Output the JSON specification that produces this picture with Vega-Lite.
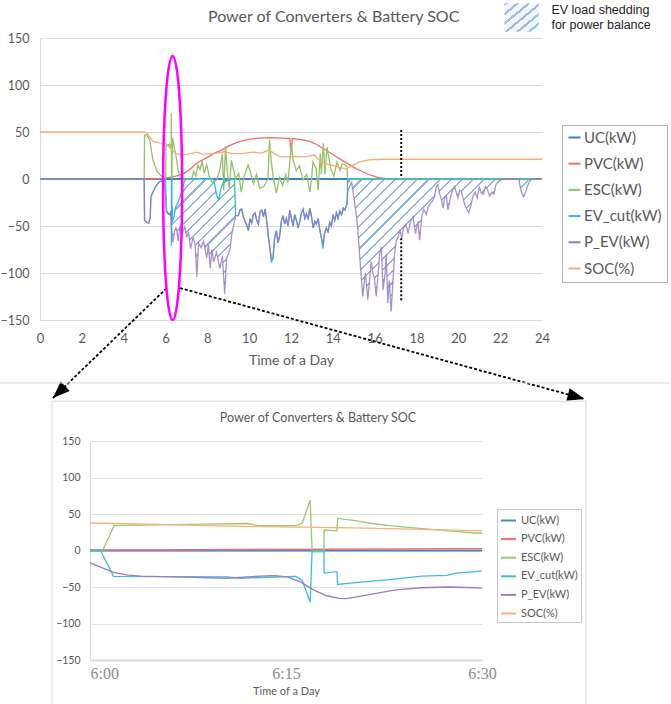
{
"$schema":"https://vega.github.io/schema/vega-lite/v6.json",
"width":671,"height":704,"padding":0,"autosize":{"type":"none"},
"config":{"view":{"stroke":null},"font":"Lato","axis":{"labelFont":"Lato","titleFont":"Lato"},"legend":{"labelFont":"Lato"}},
"datasets":{
"top":[
{"s":"UC(kW)","t":0,"v":0},{"s":"UC(kW)","t":24,"v":0},
{"s":"PVC(kW)","t":0,"v":0},{"s":"PVC(kW)","t":5.5,"v":0},{"s":"PVC(kW)","t":6,"v":1},{"s":"PVC(kW)","t":6.5,"v":3},{"s":"PVC(kW)","t":6.9,"v":6},{"s":"PVC(kW)","t":7.2,"v":11},{"s":"PVC(kW)","t":7.5,"v":17},{"s":"PVC(kW)","t":8,"v":23},{"s":"PVC(kW)","t":8.3,"v":27},{"s":"PVC(kW)","t":8.7,"v":31},{"s":"PVC(kW)","t":9.1,"v":36},{"s":"PVC(kW)","t":9.5,"v":39.5},{"s":"PVC(kW)","t":10,"v":42.5},{"s":"PVC(kW)","t":10.5,"v":43.5},{"s":"PVC(kW)","t":11,"v":44},{"s":"PVC(kW)","t":11.5,"v":43.5},{"s":"PVC(kW)","t":11.95,"v":43},{"s":"PVC(kW)","t":11.98,"v":31},{"s":"PVC(kW)","t":12.03,"v":31},{"s":"PVC(kW)","t":12.06,"v":43},{"s":"PVC(kW)","t":12.5,"v":42},{"s":"PVC(kW)","t":12.9,"v":40},{"s":"PVC(kW)","t":13.2,"v":37},{"s":"PVC(kW)","t":13.5,"v":33},{"s":"PVC(kW)","t":14,"v":26},{"s":"PVC(kW)","t":14.5,"v":19},{"s":"PVC(kW)","t":14.8,"v":15},{"s":"PVC(kW)","t":15.1,"v":11},{"s":"PVC(kW)","t":15.4,"v":8},{"s":"PVC(kW)","t":15.8,"v":4},{"s":"PVC(kW)","t":16.1,"v":2},{"s":"PVC(kW)","t":16.5,"v":0.5},{"s":"PVC(kW)","t":16.8,"v":0},{"s":"PVC(kW)","t":24,"v":0},
{"s":"ESC(kW)","t":0,"v":0},{"s":"ESC(kW)","t":4.98,"v":0},{"s":"ESC(kW)","t":5,"v":47},{"s":"ESC(kW)","t":5.1,"v":47},{"s":"ESC(kW)","t":5.25,"v":41},{"s":"ESC(kW)","t":5.4,"v":20},{"s":"ESC(kW)","t":5.6,"v":8},{"s":"ESC(kW)","t":5.85,"v":2},{"s":"ESC(kW)","t":6,"v":0},{"s":"ESC(kW)","t":6.008,"v":0},{"s":"ESC(kW)","t":6.025,"v":35},{"s":"ESC(kW)","t":6.1,"v":36},{"s":"ESC(kW)","t":6.2,"v":37},{"s":"ESC(kW)","t":6.24,"v":34},{"s":"ESC(kW)","t":6.275,"v":38},{"s":"ESC(kW)","t":6.282,"v":70},{"s":"ESC(kW)","t":6.285,"v":-2},{"s":"ESC(kW)","t":6.308,"v":-2},{"s":"ESC(kW)","t":6.31,"v":28},{"s":"ESC(kW)","t":6.33,"v":27},{"s":"ESC(kW)","t":6.332,"v":44},{"s":"ESC(kW)","t":6.35,"v":41},{"s":"ESC(kW)","t":6.38,"v":39},{"s":"ESC(kW)","t":6.43,"v":32},{"s":"ESC(kW)","t":6.5,"v":25},{"s":"ESC(kW)","t":6.6,"v":10},{"s":"ESC(kW)","t":6.7,"v":2},{"s":"ESC(kW)","t":6.9,"v":0},{"s":"ESC(kW)","t":7.25,"v":0},{"s":"ESC(kW)","t":7.35,"v":8},{"s":"ESC(kW)","t":7.45,"v":3},{"s":"ESC(kW)","t":7.55,"v":15},{"s":"ESC(kW)","t":7.65,"v":10},{"s":"ESC(kW)","t":7.75,"v":19},{"s":"ESC(kW)","t":7.85,"v":6},{"s":"ESC(kW)","t":7.97,"v":15},{"s":"ESC(kW)","t":8.1,"v":2},{"s":"ESC(kW)","t":8.25,"v":-4.5},{"s":"ESC(kW)","t":8.45,"v":-1},{"s":"ESC(kW)","t":8.6,"v":10},{"s":"ESC(kW)","t":8.72,"v":27},{"s":"ESC(kW)","t":8.78,"v":-12},{"s":"ESC(kW)","t":8.87,"v":35},{"s":"ESC(kW)","t":8.95,"v":8},{"s":"ESC(kW)","t":9.05,"v":-10},{"s":"ESC(kW)","t":9.15,"v":20},{"s":"ESC(kW)","t":9.25,"v":10},{"s":"ESC(kW)","t":9.35,"v":0},{"s":"ESC(kW)","t":9.5,"v":6},{"s":"ESC(kW)","t":9.62,"v":-14},{"s":"ESC(kW)","t":9.75,"v":2},{"s":"ESC(kW)","t":9.95,"v":15},{"s":"ESC(kW)","t":10.05,"v":8},{"s":"ESC(kW)","t":10.2,"v":-5},{"s":"ESC(kW)","t":10.35,"v":5},{"s":"ESC(kW)","t":10.5,"v":-10},{"s":"ESC(kW)","t":10.7,"v":-8},{"s":"ESC(kW)","t":10.9,"v":0},{"s":"ESC(kW)","t":10.97,"v":42},{"s":"ESC(kW)","t":11.05,"v":20},{"s":"ESC(kW)","t":11.15,"v":2},{"s":"ESC(kW)","t":11.3,"v":-15},{"s":"ESC(kW)","t":11.45,"v":2},{"s":"ESC(kW)","t":11.6,"v":-7},{"s":"ESC(kW)","t":11.75,"v":5},{"s":"ESC(kW)","t":11.85,"v":-4},{"s":"ESC(kW)","t":12.02,"v":36},{"s":"ESC(kW)","t":12.1,"v":20},{"s":"ESC(kW)","t":12.25,"v":9},{"s":"ESC(kW)","t":12.4,"v":14},{"s":"ESC(kW)","t":12.57,"v":-1},{"s":"ESC(kW)","t":12.75,"v":5},{"s":"ESC(kW)","t":12.9,"v":-14},{"s":"ESC(kW)","t":12.98,"v":-1},{"s":"ESC(kW)","t":13.05,"v":18},{"s":"ESC(kW)","t":13.2,"v":11},{"s":"ESC(kW)","t":13.3,"v":-12},{"s":"ESC(kW)","t":13.4,"v":27},{"s":"ESC(kW)","t":13.45,"v":5},{"s":"ESC(kW)","t":13.55,"v":38},{"s":"ESC(kW)","t":13.62,"v":5},{"s":"ESC(kW)","t":13.72,"v":34},{"s":"ESC(kW)","t":13.9,"v":11},{"s":"ESC(kW)","t":14.05,"v":3},{"s":"ESC(kW)","t":14.2,"v":18},{"s":"ESC(kW)","t":14.35,"v":9},{"s":"ESC(kW)","t":14.45,"v":16},{"s":"ESC(kW)","t":14.6,"v":15},{"s":"ESC(kW)","t":14.68,"v":12},{"s":"ESC(kW)","t":14.7,"v":0},{"s":"ESC(kW)","t":24,"v":0},
{"s":"EV_cut(kW)","t":0,"v":0},{"s":"EV_cut(kW)","t":4.98,"v":0},{"s":"EV_cut(kW)","t":5,"v":-44},{"s":"EV_cut(kW)","t":5.1,"v":-46},{"s":"EV_cut(kW)","t":5.2,"v":-47},{"s":"EV_cut(kW)","t":5.27,"v":-41},{"s":"EV_cut(kW)","t":5.3,"v":-19},{"s":"EV_cut(kW)","t":5.5,"v":-9},{"s":"EV_cut(kW)","t":5.7,"v":-3},{"s":"EV_cut(kW)","t":5.93,"v":-1},{"s":"EV_cut(kW)","t":6,"v":0},{"s":"EV_cut(kW)","t":6.008,"v":0},{"s":"EV_cut(kW)","t":6.033,"v":-35},{"s":"EV_cut(kW)","t":6.1,"v":-36},{"s":"EV_cut(kW)","t":6.2,"v":-38},{"s":"EV_cut(kW)","t":6.25,"v":-36},{"s":"EV_cut(kW)","t":6.267,"v":-36},{"s":"EV_cut(kW)","t":6.282,"v":-71},{"s":"EV_cut(kW)","t":6.285,"v":0},{"s":"EV_cut(kW)","t":6.307,"v":0},{"s":"EV_cut(kW)","t":6.308,"v":-31},{"s":"EV_cut(kW)","t":6.325,"v":-29},{"s":"EV_cut(kW)","t":6.327,"v":-46},{"s":"EV_cut(kW)","t":6.4,"v":-40},{"s":"EV_cut(kW)","t":6.45,"v":-34},{"s":"EV_cut(kW)","t":6.5,"v":-29},{"s":"EV_cut(kW)","t":6.6,"v":-25},{"s":"EV_cut(kW)","t":6.75,"v":-15},{"s":"EV_cut(kW)","t":6.9,"v":-3},{"s":"EV_cut(kW)","t":7,"v":0},{"s":"EV_cut(kW)","t":8.3,"v":0},{"s":"EV_cut(kW)","t":8.45,"v":-18},{"s":"EV_cut(kW)","t":8.55,"v":-22},{"s":"EV_cut(kW)","t":8.65,"v":-10},{"s":"EV_cut(kW)","t":8.8,"v":-2},{"s":"EV_cut(kW)","t":9.3,"v":0},{"s":"EV_cut(kW)","t":9.35,"v":-39},
{"s":"EV_cut(kW)","t":9.48,"v":-39},{"s":"EV_cut(kW)","t":9.56,"v":-33},{"s":"EV_cut(kW)","t":9.64,"v":-32},{"s":"EV_cut(kW)","t":9.72,"v":-40},{"s":"EV_cut(kW)","t":9.8,"v":-45},{"s":"EV_cut(kW)","t":9.9,"v":-50},{"s":"EV_cut(kW)","t":9.96,"v":-55},{"s":"EV_cut(kW)","t":10.04,"v":-42},{"s":"EV_cut(kW)","t":10.12,"v":-47},{"s":"EV_cut(kW)","t":10.2,"v":-38},{"s":"EV_cut(kW)","t":10.28,"v":-36},{"s":"EV_cut(kW)","t":10.36,"v":-44},{"s":"EV_cut(kW)","t":10.44,"v":-48},{"s":"EV_cut(kW)","t":10.52,"v":-35},{"s":"EV_cut(kW)","t":10.6,"v":-33},{"s":"EV_cut(kW)","t":10.68,"v":-40},{"s":"EV_cut(kW)","t":10.76,"v":-32},{"s":"EV_cut(kW)","t":10.84,"v":-45},{"s":"EV_cut(kW)","t":10.92,"v":-62},{"s":"EV_cut(kW)","t":11,"v":-75},{"s":"EV_cut(kW)","t":11.06,"v":-88},{"s":"EV_cut(kW)","t":11.14,"v":-85},{"s":"EV_cut(kW)","t":11.22,"v":-62},{"s":"EV_cut(kW)","t":11.3,"v":-55},{"s":"EV_cut(kW)","t":11.38,"v":-68},{"s":"EV_cut(kW)","t":11.46,"v":-60},{"s":"EV_cut(kW)","t":11.54,"v":-45},{"s":"EV_cut(kW)","t":11.62,"v":-39},{"s":"EV_cut(kW)","t":11.7,"v":-48},{"s":"EV_cut(kW)","t":11.78,"v":-42},{"s":"EV_cut(kW)","t":11.86,"v":-50},{"s":"EV_cut(kW)","t":11.94,"v":-33},{"s":"EV_cut(kW)","t":12.02,"v":-42},{"s":"EV_cut(kW)","t":12.1,"v":-50},{"s":"EV_cut(kW)","t":12.18,"v":-38},{"s":"EV_cut(kW)","t":12.26,"v":-44},{"s":"EV_cut(kW)","t":12.34,"v":-52},{"s":"EV_cut(kW)","t":12.42,"v":-45},{"s":"EV_cut(kW)","t":12.5,"v":-36},{"s":"EV_cut(kW)","t":12.58,"v":-32},{"s":"EV_cut(kW)","t":12.66,"v":-42},{"s":"EV_cut(kW)","t":12.74,"v":-37},{"s":"EV_cut(kW)","t":12.82,"v":-43},{"s":"EV_cut(kW)","t":12.9,"v":-31},{"s":"EV_cut(kW)","t":12.98,"v":-40},{"s":"EV_cut(kW)","t":13.06,"v":-52},{"s":"EV_cut(kW)","t":13.14,"v":-45},{"s":"EV_cut(kW)","t":13.21,"v":-48},{"s":"EV_cut(kW)","t":13.3,"v":-42},{"s":"EV_cut(kW)","t":13.37,"v":-53},{"s":"EV_cut(kW)","t":13.45,"v":-62},{"s":"EV_cut(kW)","t":13.53,"v":-74},{"s":"EV_cut(kW)","t":13.6,"v":-58},{"s":"EV_cut(kW)","t":13.69,"v":-52},{"s":"EV_cut(kW)","t":13.77,"v":-57},{"s":"EV_cut(kW)","t":13.85,"v":-46},{"s":"EV_cut(kW)","t":13.93,"v":-50},{"s":"EV_cut(kW)","t":14.01,"v":-38},{"s":"EV_cut(kW)","t":14.09,"v":-44},{"s":"EV_cut(kW)","t":14.17,"v":-36},{"s":"EV_cut(kW)","t":14.25,"v":-42},{"s":"EV_cut(kW)","t":14.33,"v":-34},{"s":"EV_cut(kW)","t":14.42,"v":-38},{"s":"EV_cut(kW)","t":14.5,"v":-31},{"s":"EV_cut(kW)","t":14.58,"v":-33},{"s":"EV_cut(kW)","t":14.66,"v":-27},{"s":"EV_cut(kW)","t":14.69,"v":-27},{"s":"EV_cut(kW)","t":14.7,"v":0},{"s":"EV_cut(kW)","t":24,"v":0},
{"s":"P_EV(kW)","t":0,"v":0},{"s":"P_EV(kW)","t":4.98,"v":0},{"s":"P_EV(kW)","t":5,"v":-44},{"s":"P_EV(kW)","t":5.1,"v":-46},{"s":"P_EV(kW)","t":5.2,"v":-47},{"s":"P_EV(kW)","t":5.27,"v":-41},{"s":"P_EV(kW)","t":5.3,"v":-19},{"s":"P_EV(kW)","t":5.5,"v":-9},{"s":"P_EV(kW)","t":5.7,"v":-3},{"s":"P_EV(kW)","t":5.93,"v":-2},{"s":"P_EV(kW)","t":6,"v":-17},{"s":"P_EV(kW)","t":6.033,"v":-28},{"s":"P_EV(kW)","t":6.067,"v":-34},{"s":"P_EV(kW)","t":6.1,"v":-36},{"s":"P_EV(kW)","t":6.167,"v":-38},{"s":"P_EV(kW)","t":6.2,"v":-38},{"s":"P_EV(kW)","t":6.233,"v":-35},{"s":"P_EV(kW)","t":6.25,"v":-35},{"s":"P_EV(kW)","t":6.267,"v":-42},{"s":"P_EV(kW)","t":6.3,"v":-55},{"s":"P_EV(kW)","t":6.333,"v":-64},{"s":"P_EV(kW)","t":6.35,"v":-67},{"s":"P_EV(kW)","t":6.383,"v":-64},{"s":"P_EV(kW)","t":6.417,"v":-58},{"s":"P_EV(kW)","t":6.45,"v":-54},{"s":"P_EV(kW)","t":6.5,"v":-52},{"s":"P_EV(kW)","t":6.55,"v":-56},{"s":"P_EV(kW)","t":6.6,"v":-66},{"s":"P_EV(kW)","t":6.68,"v":-52},{"s":"P_EV(kW)","t":6.8,"v":-58},{"s":"P_EV(kW)","t":6.92,"v":-51},{"s":"P_EV(kW)","t":7.02,"v":-62},{"s":"P_EV(kW)","t":7.1,"v":-56},{"s":"P_EV(kW)","t":7.2,"v":-74},{"s":"P_EV(kW)","t":7.32,"v":-62},{"s":"P_EV(kW)","t":7.42,"v":-70},{"s":"P_EV(kW)","t":7.5,"v":-104},{"s":"P_EV(kW)","t":7.58,"v":-68},{"s":"P_EV(kW)","t":7.7,"v":-73},{"s":"P_EV(kW)","t":7.82,"v":-66},{"s":"P_EV(kW)","t":7.97,"v":-84},{"s":"P_EV(kW)","t":8.05,"v":-70},{"s":"P_EV(kW)","t":8.14,"v":-95},{"s":"P_EV(kW)","t":8.22,"v":-75},{"s":"P_EV(kW)","t":8.3,"v":-88},{"s":"P_EV(kW)","t":8.44,"v":-78},{"s":"P_EV(kW)","t":8.6,"v":-95},{"s":"P_EV(kW)","t":8.72,"v":-82},{"s":"P_EV(kW)","t":8.83,"v":-122},{"s":"P_EV(kW)","t":8.92,"v":-85},{"s":"P_EV(kW)","t":9.08,"v":-75},{"s":"P_EV(kW)","t":9.16,"v":-60},{"s":"P_EV(kW)","t":9.24,"v":-51},{"s":"P_EV(kW)","t":9.3,"v":-45},{"s":"P_EV(kW)","t":9.35,"v":-39},
{"s":"P_EV(kW)","t":9.48,"v":-39},{"s":"P_EV(kW)","t":9.56,"v":-33},{"s":"P_EV(kW)","t":9.64,"v":-32},{"s":"P_EV(kW)","t":9.72,"v":-40},{"s":"P_EV(kW)","t":9.8,"v":-45},{"s":"P_EV(kW)","t":9.9,"v":-50},{"s":"P_EV(kW)","t":9.96,"v":-55},{"s":"P_EV(kW)","t":10.04,"v":-42},{"s":"P_EV(kW)","t":10.12,"v":-47},{"s":"P_EV(kW)","t":10.2,"v":-38},{"s":"P_EV(kW)","t":10.28,"v":-36},{"s":"P_EV(kW)","t":10.36,"v":-44},{"s":"P_EV(kW)","t":10.44,"v":-48},{"s":"P_EV(kW)","t":10.52,"v":-35},{"s":"P_EV(kW)","t":10.6,"v":-33},{"s":"P_EV(kW)","t":10.68,"v":-40},{"s":"P_EV(kW)","t":10.76,"v":-32},{"s":"P_EV(kW)","t":10.84,"v":-45},{"s":"P_EV(kW)","t":10.92,"v":-62},{"s":"P_EV(kW)","t":11,"v":-75},{"s":"P_EV(kW)","t":11.06,"v":-85},{"s":"P_EV(kW)","t":11.14,"v":-83},{"s":"P_EV(kW)","t":11.22,"v":-62},{"s":"P_EV(kW)","t":11.3,"v":-55},{"s":"P_EV(kW)","t":11.38,"v":-68},{"s":"P_EV(kW)","t":11.46,"v":-60},{"s":"P_EV(kW)","t":11.54,"v":-45},{"s":"P_EV(kW)","t":11.62,"v":-39},{"s":"P_EV(kW)","t":11.7,"v":-48},{"s":"P_EV(kW)","t":11.78,"v":-42},{"s":"P_EV(kW)","t":11.86,"v":-50},{"s":"P_EV(kW)","t":11.94,"v":-33},{"s":"P_EV(kW)","t":12.02,"v":-42},{"s":"P_EV(kW)","t":12.1,"v":-50},{"s":"P_EV(kW)","t":12.18,"v":-38},{"s":"P_EV(kW)","t":12.26,"v":-44},{"s":"P_EV(kW)","t":12.34,"v":-52},{"s":"P_EV(kW)","t":12.42,"v":-45},{"s":"P_EV(kW)","t":12.5,"v":-36},{"s":"P_EV(kW)","t":12.58,"v":-32},{"s":"P_EV(kW)","t":12.66,"v":-42},{"s":"P_EV(kW)","t":12.74,"v":-37},{"s":"P_EV(kW)","t":12.82,"v":-43},{"s":"P_EV(kW)","t":12.9,"v":-31},{"s":"P_EV(kW)","t":12.98,"v":-40},{"s":"P_EV(kW)","t":13.06,"v":-52},{"s":"P_EV(kW)","t":13.14,"v":-45},{"s":"P_EV(kW)","t":13.21,"v":-48},{"s":"P_EV(kW)","t":13.3,"v":-42},{"s":"P_EV(kW)","t":13.37,"v":-53},{"s":"P_EV(kW)","t":13.45,"v":-62},{"s":"P_EV(kW)","t":13.53,"v":-70},{"s":"P_EV(kW)","t":13.6,"v":-58},{"s":"P_EV(kW)","t":13.69,"v":-52},{"s":"P_EV(kW)","t":13.77,"v":-57},{"s":"P_EV(kW)","t":13.85,"v":-46},{"s":"P_EV(kW)","t":13.93,"v":-50},{"s":"P_EV(kW)","t":14.01,"v":-38},{"s":"P_EV(kW)","t":14.09,"v":-44},{"s":"P_EV(kW)","t":14.17,"v":-36},{"s":"P_EV(kW)","t":14.25,"v":-42},{"s":"P_EV(kW)","t":14.33,"v":-34},{"s":"P_EV(kW)","t":14.42,"v":-38},{"s":"P_EV(kW)","t":14.5,"v":-31},{"s":"P_EV(kW)","t":14.58,"v":-33},{"s":"P_EV(kW)","t":14.66,"v":-27},
{"s":"P_EV(kW)","t":14.7,"v":-18},{"s":"P_EV(kW)","t":14.72,"v":-13},{"s":"P_EV(kW)","t":14.8,"v":-8},{"s":"P_EV(kW)","t":14.9,"v":-3.5},{"s":"P_EV(kW)","t":15.04,"v":-25},{"s":"P_EV(kW)","t":15.12,"v":-38},{"s":"P_EV(kW)","t":15.2,"v":-55},{"s":"P_EV(kW)","t":15.3,"v":-87},{"s":"P_EV(kW)","t":15.43,"v":-125},{"s":"P_EV(kW)","t":15.5,"v":-110},{"s":"P_EV(kW)","t":15.56,"v":-100},{"s":"P_EV(kW)","t":15.67,"v":-128},{"s":"P_EV(kW)","t":15.75,"v":-110},{"s":"P_EV(kW)","t":15.83,"v":-88},{"s":"P_EV(kW)","t":15.92,"v":-100},{"s":"P_EV(kW)","t":15.99,"v":-105},{"s":"P_EV(kW)","t":16.07,"v":-125},{"s":"P_EV(kW)","t":16.15,"v":-105},{"s":"P_EV(kW)","t":16.24,"v":-80},{"s":"P_EV(kW)","t":16.32,"v":-72},{"s":"P_EV(kW)","t":16.4,"v":-118},{"s":"P_EV(kW)","t":16.5,"v":-100},{"s":"P_EV(kW)","t":16.55,"v":-80},{"s":"P_EV(kW)","t":16.63,"v":-132},{"s":"P_EV(kW)","t":16.7,"v":-108},{"s":"P_EV(kW)","t":16.79,"v":-141},{"s":"P_EV(kW)","t":16.87,"v":-110},{"s":"P_EV(kW)","t":16.95,"v":-80},{"s":"P_EV(kW)","t":17.03,"v":-66},{"s":"P_EV(kW)","t":17.12,"v":-62},{"s":"P_EV(kW)","t":17.2,"v":-54},{"s":"P_EV(kW)","t":17.3,"v":-63},{"s":"P_EV(kW)","t":17.38,"v":-52},{"s":"P_EV(kW)","t":17.5,"v":-49},{"s":"P_EV(kW)","t":17.6,"v":-58},{"s":"P_EV(kW)","t":17.7,"v":-46},{"s":"P_EV(kW)","t":17.83,"v":-40},{"s":"P_EV(kW)","t":17.95,"v":-58},{"s":"P_EV(kW)","t":18.07,"v":-45},{"s":"P_EV(kW)","t":18.15,"v":-65},{"s":"P_EV(kW)","t":18.25,"v":-40},{"s":"P_EV(kW)","t":18.35,"v":-32},{"s":"P_EV(kW)","t":18.47,"v":-38},{"s":"P_EV(kW)","t":18.55,"v":-30},{"s":"P_EV(kW)","t":18.65,"v":-26},{"s":"P_EV(kW)","t":18.79,"v":-23},{"s":"P_EV(kW)","t":18.87,"v":-18},{"s":"P_EV(kW)","t":18.95,"v":-8},{"s":"P_EV(kW)","t":19.02,"v":-6},{"s":"P_EV(kW)","t":19.1,"v":-15},{"s":"P_EV(kW)","t":19.19,"v":-22},{"s":"P_EV(kW)","t":19.27,"v":-31},{"s":"P_EV(kW)","t":19.35,"v":-20},{"s":"P_EV(kW)","t":19.43,"v":-18},{"s":"P_EV(kW)","t":19.5,"v":-33},{"s":"P_EV(kW)","t":19.58,"v":-25},{"s":"P_EV(kW)","t":19.66,"v":-16},{"s":"P_EV(kW)","t":19.74,"v":-11},{"s":"P_EV(kW)","t":19.82,"v":-8},{"s":"P_EV(kW)","t":19.9,"v":-14},{"s":"P_EV(kW)","t":19.98,"v":-20},{"s":"P_EV(kW)","t":20.06,"v":-12},{"s":"P_EV(kW)","t":20.14,"v":-13},{"s":"P_EV(kW)","t":20.22,"v":-20},{"s":"P_EV(kW)","t":20.3,"v":-27},{"s":"P_EV(kW)","t":20.4,"v":-32},{"s":"P_EV(kW)","t":20.5,"v":-36},{"s":"P_EV(kW)","t":20.6,"v":-28},{"s":"P_EV(kW)","t":20.7,"v":-18},{"s":"P_EV(kW)","t":20.8,"v":-14},{"s":"P_EV(kW)","t":20.9,"v":-20},{"s":"P_EV(kW)","t":21,"v":-8},{"s":"P_EV(kW)","t":21.1,"v":-15},{"s":"P_EV(kW)","t":21.2,"v":-16},{"s":"P_EV(kW)","t":21.3,"v":-8},{"s":"P_EV(kW)","t":21.4,"v":-12},{"s":"P_EV(kW)","t":21.5,"v":-18},{"s":"P_EV(kW)","t":21.6,"v":-14},{"s":"P_EV(kW)","t":21.7,"v":-16},{"s":"P_EV(kW)","t":21.8,"v":-6},{"s":"P_EV(kW)","t":21.95,"v":-2},{"s":"P_EV(kW)","t":22.13,"v":0},{"s":"P_EV(kW)","t":22.9,"v":0},{"s":"P_EV(kW)","t":22.95,"v":-8},{"s":"P_EV(kW)","t":23.05,"v":-16},{"s":"P_EV(kW)","t":23.12,"v":-19},{"s":"P_EV(kW)","t":23.2,"v":-15},{"s":"P_EV(kW)","t":23.3,"v":-8},{"s":"P_EV(kW)","t":23.4,"v":-3},{"s":"P_EV(kW)","t":23.5,"v":0},{"s":"P_EV(kW)","t":24,"v":0},
{"s":"SOC(%)","t":0,"v":50},{"s":"SOC(%)","t":5,"v":50},{"s":"SOC(%)","t":5.1,"v":49},{"s":"SOC(%)","t":5.2,"v":46},{"s":"SOC(%)","t":5.4,"v":40},{"s":"SOC(%)","t":5.7,"v":38.5},{"s":"SOC(%)","t":6,"v":38},{"s":"SOC(%)","t":6.25,"v":32.5},{"s":"SOC(%)","t":6.5,"v":27},{"s":"SOC(%)","t":6.8,"v":26},{"s":"SOC(%)","t":7.1,"v":26.5},{"s":"SOC(%)","t":7.5,"v":28.5},{"s":"SOC(%)","t":7.8,"v":26.5},{"s":"SOC(%)","t":8.3,"v":27},{"s":"SOC(%)","t":8.8,"v":29},{"s":"SOC(%)","t":9.2,"v":27},{"s":"SOC(%)","t":9.7,"v":27},{"s":"SOC(%)","t":10.2,"v":28.5},{"s":"SOC(%)","t":10.6,"v":27.5},{"s":"SOC(%)","t":10.95,"v":31},{"s":"SOC(%)","t":11.2,"v":27},{"s":"SOC(%)","t":11.5,"v":23.5},{"s":"SOC(%)","t":12.2,"v":24},{"s":"SOC(%)","t":12.7,"v":23.5},{"s":"SOC(%)","t":13.1,"v":25.5},{"s":"SOC(%)","t":13.5,"v":17},{"s":"SOC(%)","t":14.1,"v":14},{"s":"SOC(%)","t":14.6,"v":10.5},{"s":"SOC(%)","t":14.9,"v":14},{"s":"SOC(%)","t":15.3,"v":18.5},{"s":"SOC(%)","t":15.8,"v":20.5},{"s":"SOC(%)","t":16.5,"v":21},{"s":"SOC(%)","t":24,"v":21}
],
"shed":[
{"t":6.285,"v":-49,"v2":0},{"t":6.307,"v":-54,"v2":0},{"t":6.308,"v":-54,"v2":-31},{"t":6.325,"v":-61,"v2":-29},{"t":6.327,"v":-62,"v2":-46},{"t":6.35,"v":-67,"v2":-45},{"t":6.4,"v":-61,"v2":-40},{"t":6.45,"v":-54,"v2":-34},{"t":6.5,"v":-52,"v2":-29},{"t":6.55,"v":-56,"v2":-27},{"t":6.6,"v":-66,"v2":-25},{"t":6.68,"v":-52,"v2":-20},{"t":6.8,"v":-58,"v2":-11},{"t":6.92,"v":-51,"v2":-2.5},{"t":7.02,"v":-62,"v2":0},{"t":7.1,"v":-56,"v2":0},{"t":7.2,"v":-74,"v2":0},{"t":7.32,"v":-62,"v2":0},{"t":7.42,"v":-70,"v2":0},{"t":7.5,"v":-104,"v2":0},{"t":7.58,"v":-68,"v2":0},{"t":7.7,"v":-73,"v2":0},{"t":7.82,"v":-66,"v2":0},{"t":7.97,"v":-84,"v2":0},{"t":8.05,"v":-70,"v2":0},{"t":8.14,"v":-95,"v2":0},{"t":8.22,"v":-75,"v2":0},{"t":8.3,"v":-88,"v2":0},{"t":8.44,"v":-78,"v2":-17},{"t":8.6,"v":-95,"v2":-16},{"t":8.72,"v":-82,"v2":-6},{"t":8.83,"v":-122,"v2":-2},{"t":8.92,"v":-85,"v2":-1.5},{"t":9.08,"v":-75,"v2":-1},{"t":9.16,"v":-60,"v2":-0.5},{"t":9.24,"v":-51,"v2":0},{"t":9.3,"v":-45,"v2":0},{"t":9.35,"v":-39,"v2":-39},{"t":14.66,"v":-27,"v2":-27},
{"t":14.7,"v":-18,"v2":0},{"t":14.72,"v":-13,"v2":0},{"t":14.8,"v":-8,"v2":0},{"t":14.9,"v":-3.5,"v2":0},{"t":15.04,"v":-25,"v2":0},{"t":15.12,"v":-38,"v2":0},{"t":15.2,"v":-55,"v2":0},{"t":15.3,"v":-87,"v2":0},{"t":15.43,"v":-125,"v2":0},{"t":15.5,"v":-110,"v2":0},{"t":15.56,"v":-100,"v2":0},{"t":15.67,"v":-128,"v2":0},{"t":15.75,"v":-110,"v2":0},{"t":15.83,"v":-88,"v2":0},{"t":15.92,"v":-100,"v2":0},{"t":15.99,"v":-105,"v2":0},{"t":16.07,"v":-125,"v2":0},{"t":16.15,"v":-105,"v2":0},{"t":16.24,"v":-80,"v2":0},{"t":16.32,"v":-72,"v2":0},{"t":16.4,"v":-118,"v2":0},{"t":16.5,"v":-100,"v2":0},{"t":16.55,"v":-80,"v2":0},{"t":16.63,"v":-132,"v2":0},{"t":16.7,"v":-108,"v2":0},{"t":16.79,"v":-141,"v2":0},{"t":16.87,"v":-110,"v2":0},{"t":16.95,"v":-80,"v2":0},{"t":17.03,"v":-66,"v2":0},{"t":17.12,"v":-62,"v2":0},{"t":17.2,"v":-54,"v2":0},{"t":17.3,"v":-63,"v2":0},{"t":17.38,"v":-52,"v2":0},{"t":17.5,"v":-49,"v2":0},{"t":17.6,"v":-58,"v2":0},{"t":17.7,"v":-46,"v2":0},{"t":17.83,"v":-40,"v2":0},{"t":17.95,"v":-58,"v2":0},{"t":18.07,"v":-45,"v2":0},{"t":18.15,"v":-65,"v2":0},{"t":18.25,"v":-40,"v2":0},{"t":18.35,"v":-32,"v2":0},{"t":18.47,"v":-38,"v2":0},{"t":18.55,"v":-30,"v2":0},{"t":18.65,"v":-26,"v2":0},{"t":18.79,"v":-23,"v2":0},{"t":18.87,"v":-18,"v2":0},{"t":18.95,"v":-8,"v2":0},{"t":19.02,"v":-6,"v2":0},{"t":19.1,"v":-15,"v2":0},{"t":19.19,"v":-22,"v2":0},{"t":19.27,"v":-31,"v2":0},{"t":19.35,"v":-20,"v2":0},{"t":19.43,"v":-18,"v2":0},{"t":19.5,"v":-33,"v2":0},{"t":19.58,"v":-25,"v2":0},{"t":19.66,"v":-16,"v2":0},{"t":19.74,"v":-11,"v2":0},{"t":19.82,"v":-8,"v2":0},{"t":19.9,"v":-14,"v2":0},{"t":19.98,"v":-20,"v2":0},{"t":20.06,"v":-12,"v2":0},{"t":20.14,"v":-13,"v2":0},{"t":20.22,"v":-20,"v2":0},{"t":20.3,"v":-27,"v2":0},{"t":20.4,"v":-32,"v2":0},{"t":20.5,"v":-36,"v2":0},{"t":20.6,"v":-28,"v2":0},{"t":20.7,"v":-18,"v2":0},{"t":20.8,"v":-14,"v2":0},{"t":20.9,"v":-20,"v2":0},{"t":21,"v":-8,"v2":0},{"t":21.1,"v":-15,"v2":0},{"t":21.2,"v":-16,"v2":0},{"t":21.3,"v":-8,"v2":0},{"t":21.4,"v":-12,"v2":0},{"t":21.5,"v":-18,"v2":0},{"t":21.6,"v":-14,"v2":0},{"t":21.7,"v":-16,"v2":0},{"t":21.8,"v":-6,"v2":0},{"t":21.95,"v":-2,"v2":0},{"t":22.13,"v":0,"v2":0},{"t":22.9,"v":0,"v2":0},{"t":22.95,"v":-8,"v2":0},{"t":23.05,"v":-16,"v2":0},{"t":23.12,"v":-19,"v2":0},{"t":23.2,"v":-15,"v2":0},{"t":23.3,"v":-8,"v2":0},{"t":23.4,"v":-3,"v2":0},{"t":23.5,"v":0,"v2":0}
],
"bot":[
{"s":"UC(kW)","t":0,"v":0},{"s":"UC(kW)","t":30,"v":0},
{"s":"PVC(kW)","t":0,"v":0.5},{"s":"PVC(kW)","t":30,"v":2.5},
{"s":"ESC(kW)","t":0,"v":0},{"s":"ESC(kW)","t":0.8,"v":0},{"s":"ESC(kW)","t":1,"v":1},{"s":"ESC(kW)","t":1.84,"v":34},{"s":"ESC(kW)","t":5,"v":35},{"s":"ESC(kW)","t":10,"v":36.5},{"s":"ESC(kW)","t":12,"v":37},{"s":"ESC(kW)","t":12.9,"v":34},{"s":"ESC(kW)","t":15.8,"v":34},{"s":"ESC(kW)","t":16.25,"v":38},{"s":"ESC(kW)","t":16.85,"v":69},{"s":"ESC(kW)","t":17,"v":-2},{"s":"ESC(kW)","t":17.9,"v":-2},{"s":"ESC(kW)","t":17.92,"v":28},{"s":"ESC(kW)","t":18.9,"v":27},{"s":"ESC(kW)","t":18.95,"v":44},{"s":"ESC(kW)","t":20.3,"v":41},{"s":"ESC(kW)","t":21.6,"v":37},{"s":"ESC(kW)","t":22.9,"v":34},{"s":"ESC(kW)","t":25.4,"v":30},{"s":"ESC(kW)","t":27.4,"v":27},{"s":"ESC(kW)","t":29.5,"v":24},{"s":"ESC(kW)","t":30,"v":24},
{"s":"EV_cut(kW)","t":0,"v":0},{"s":"EV_cut(kW)","t":0.8,"v":0},{"s":"EV_cut(kW)","t":1.8,"v":-35.5},{"s":"EV_cut(kW)","t":10.5,"v":-36},{"s":"EV_cut(kW)","t":11.5,"v":-38},{"s":"EV_cut(kW)","t":13,"v":-37},{"s":"EV_cut(kW)","t":15.8,"v":-35.5},{"s":"EV_cut(kW)","t":16.25,"v":-41},{"s":"EV_cut(kW)","t":16.85,"v":-71},{"s":"EV_cut(kW)","t":17,"v":0},{"s":"EV_cut(kW)","t":17.9,"v":0},{"s":"EV_cut(kW)","t":17.92,"v":-31},{"s":"EV_cut(kW)","t":18.9,"v":-29},{"s":"EV_cut(kW)","t":18.95,"v":-46.5},{"s":"EV_cut(kW)","t":20.3,"v":-44},{"s":"EV_cut(kW)","t":22.9,"v":-40},{"s":"EV_cut(kW)","t":25.4,"v":-35},{"s":"EV_cut(kW)","t":27.3,"v":-34},{"s":"EV_cut(kW)","t":28,"v":-31},{"s":"EV_cut(kW)","t":29.5,"v":-29},{"s":"EV_cut(kW)","t":30,"v":-28},
{"s":"P_EV(kW)","t":0,"v":-17},{"s":"P_EV(kW)","t":0.8,"v":-22.7},{"s":"P_EV(kW)","t":1.8,"v":-30},{"s":"P_EV(kW)","t":2.9,"v":-33.6},{"s":"P_EV(kW)","t":3.9,"v":-35},{"s":"P_EV(kW)","t":6.4,"v":-36},{"s":"P_EV(kW)","t":10.5,"v":-38},{"s":"P_EV(kW)","t":13,"v":-35},{"s":"P_EV(kW)","t":14.1,"v":-34.5},{"s":"P_EV(kW)","t":15.1,"v":-36},{"s":"P_EV(kW)","t":16.1,"v":-43},{"s":"P_EV(kW)","t":17.1,"v":-54},{"s":"P_EV(kW)","t":18.1,"v":-62},{"s":"P_EV(kW)","t":19.1,"v":-65.7},{"s":"P_EV(kW)","t":19.6,"v":-66},{"s":"P_EV(kW)","t":20.3,"v":-64},{"s":"P_EV(kW)","t":21.9,"v":-58.6},{"s":"P_EV(kW)","t":23.4,"v":-54},{"s":"P_EV(kW)","t":25.4,"v":-51},{"s":"P_EV(kW)","t":27.5,"v":-50},{"s":"P_EV(kW)","t":29.5,"v":-51},{"s":"P_EV(kW)","t":30,"v":-51.5},
{"s":"SOC(%)","t":0,"v":37.7},{"s":"SOC(%)","t":12.9,"v":32.7},{"s":"SOC(%)","t":20.3,"v":31},{"s":"SOC(%)","t":29.5,"v":27.3},{"s":"SOC(%)","t":30,"v":27.2}
],
"dash":[{"g":"a","t":17.27,"v":52},{"g":"a","t":17.27,"v":2},{"g":"b","t":17.27,"v":-63},{"g":"b","t":17.27,"v":-131}],
"arrows":[{"g":"L","t":6.06,"v":-116},{"g":"L","t":0.62,"v":-233},{"g":"R","t":6.69,"v":-116},{"g":"R","t":26.03,"v":-234}],
"heads":[{"t":0.62,"v":-233,"a":226},{"t":26.03,"v":-234,"a":105}],
"ell":[{"t":6.34,"v":-9.6}],
"sep":[{"t":-1.91,"v":-217},{"t":30.1,"v":-217}],
"ttl":[{"t":14.04,"v":172,"txt":"Power of Converters & Battery SOC"}],
"hbox":[{"t":22.2,"t2":23.84,"v":186.9,"v2":156.7}],
"htxt":[{"t":24.45,"v":179.8,"txt":"EV load shedding"},{"t":24.45,"v":163.8,"txt":"for power balance"}],
"bbox":[{"t":-2.91,"t2":37.96,"v":204.5,"v2":-212.7}],
"bttl":[{"t":17.45,"v":181.4,"txt":"Power of Converters & Battery SOC"}]
},
"layer":[
{"layer":[
 {"data":{"name":"top"},"transform":[{"filter":"datum.s == 'UC(kW)'"}],
  "mark":{"type":"line","stroke":"#3f7fc5","strokeWidth":2.2},
  "encoding":{
   "x":{"field":"t","type":"quantitative","scale":{"domain":[0,24],"range":[40,542],"nice":false,"zero":false},
        "axis":{"orient":"bottom","offset":-384,"values":[0,2,4,6,8,10,12,14,16,18,20,22,24],"title":"Time of a Day","grid":false,"ticks":false,"domainColor":"#d9d9d9","labelPadding":12,"labelFontSize":13,"labelColor":"#595959","labelFlush":false,"labelOverlap":false,"titleFontSize":14,"titleFontWeight":"normal","titleColor":"#595959","titlePadding":8}},
   "y":{"field":"v","type":"quantitative","scale":{"domain":[-150,150],"range":[320,38],"nice":false,"zero":false},
        "axis":{"orient":"left","offset":-40,"values":[-150,-100,-50,0,50,100,150],"title":null,"grid":true,"gridColor":"#d9d9d9","ticks":false,"domainColor":"#d9d9d9","labelPadding":11,"labelFontSize":12.5,"labelColor":"#595959"}}
  }},
 {"data":{"name":"shed"},
  "mark":{"type":"area","fill":{"gradient":"linear","x1":0,"y1":0,"x2":1.2,"y2":0.441,"stops":[
{"offset":0,"color":"#8db1e0"},{"offset":0.0045,"color":"#8db1e0"},{"offset":0.0045,"color":"rgba(255,255,255,0.9)"},{"offset":0.0227,"color":"rgba(255,255,255,0.9)"},
{"offset":0.0227,"color":"#8db1e0"},{"offset":0.0272,"color":"#8db1e0"},{"offset":0.0272,"color":"rgba(255,255,255,0.9)"},{"offset":0.0455,"color":"rgba(255,255,255,0.9)"},
{"offset":0.0455,"color":"#8db1e0"},{"offset":0.05,"color":"#8db1e0"},{"offset":0.05,"color":"rgba(255,255,255,0.9)"},{"offset":0.0682,"color":"rgba(255,255,255,0.9)"},
{"offset":0.0682,"color":"#8db1e0"},{"offset":0.0727,"color":"#8db1e0"},{"offset":0.0727,"color":"rgba(255,255,255,0.9)"},{"offset":0.0909,"color":"rgba(255,255,255,0.9)"},
{"offset":0.0909,"color":"#8db1e0"},{"offset":0.0954,"color":"#8db1e0"},{"offset":0.0954,"color":"rgba(255,255,255,0.9)"},{"offset":0.1136,"color":"rgba(255,255,255,0.9)"},
{"offset":0.1136,"color":"#8db1e0"},{"offset":0.1181,"color":"#8db1e0"},{"offset":0.1181,"color":"rgba(255,255,255,0.9)"},{"offset":0.1364,"color":"rgba(255,255,255,0.9)"},
{"offset":0.1364,"color":"#8db1e0"},{"offset":0.1409,"color":"#8db1e0"},{"offset":0.1409,"color":"rgba(255,255,255,0.9)"},{"offset":0.1591,"color":"rgba(255,255,255,0.9)"},
{"offset":0.1591,"color":"#8db1e0"},{"offset":0.1636,"color":"#8db1e0"},{"offset":0.1636,"color":"rgba(255,255,255,0.9)"},{"offset":0.1818,"color":"rgba(255,255,255,0.9)"},
{"offset":0.1818,"color":"#8db1e0"},{"offset":0.1863,"color":"#8db1e0"},{"offset":0.1863,"color":"rgba(255,255,255,0.9)"},{"offset":0.2045,"color":"rgba(255,255,255,0.9)"},
{"offset":0.2045,"color":"#8db1e0"},{"offset":0.209,"color":"#8db1e0"},{"offset":0.209,"color":"rgba(255,255,255,0.9)"},{"offset":0.2273,"color":"rgba(255,255,255,0.9)"},
{"offset":0.2273,"color":"#8db1e0"},{"offset":0.2318,"color":"#8db1e0"},{"offset":0.2318,"color":"rgba(255,255,255,0.9)"},{"offset":0.25,"color":"rgba(255,255,255,0.9)"},
{"offset":0.25,"color":"#8db1e0"},{"offset":0.2545,"color":"#8db1e0"},{"offset":0.2545,"color":"rgba(255,255,255,0.9)"},{"offset":0.2727,"color":"rgba(255,255,255,0.9)"},
{"offset":0.2727,"color":"#8db1e0"},{"offset":0.2772,"color":"#8db1e0"},{"offset":0.2772,"color":"rgba(255,255,255,0.9)"},{"offset":0.2955,"color":"rgba(255,255,255,0.9)"},
{"offset":0.2955,"color":"#8db1e0"},{"offset":0.3,"color":"#8db1e0"},{"offset":0.3,"color":"rgba(255,255,255,0.9)"},{"offset":0.3182,"color":"rgba(255,255,255,0.9)"},
{"offset":0.3182,"color":"#8db1e0"},{"offset":0.3227,"color":"#8db1e0"},{"offset":0.3227,"color":"rgba(255,255,255,0.9)"},{"offset":0.3409,"color":"rgba(255,255,255,0.9)"},
{"offset":0.3409,"color":"#8db1e0"},{"offset":0.3454,"color":"#8db1e0"},{"offset":0.3454,"color":"rgba(255,255,255,0.9)"},{"offset":0.3636,"color":"rgba(255,255,255,0.9)"},
{"offset":0.3636,"color":"#8db1e0"},{"offset":0.3681,"color":"#8db1e0"},{"offset":0.3681,"color":"rgba(255,255,255,0.9)"},{"offset":0.3864,"color":"rgba(255,255,255,0.9)"},
{"offset":0.3864,"color":"#8db1e0"},{"offset":0.3909,"color":"#8db1e0"},{"offset":0.3909,"color":"rgba(255,255,255,0.9)"},{"offset":0.4091,"color":"rgba(255,255,255,0.9)"},
{"offset":0.4091,"color":"#8db1e0"},{"offset":0.4136,"color":"#8db1e0"},{"offset":0.4136,"color":"rgba(255,255,255,0.9)"},{"offset":0.4318,"color":"rgba(255,255,255,0.9)"},
{"offset":0.4318,"color":"#8db1e0"},{"offset":0.4363,"color":"#8db1e0"},{"offset":0.4363,"color":"rgba(255,255,255,0.9)"},{"offset":0.4545,"color":"rgba(255,255,255,0.9)"},
{"offset":0.4545,"color":"#8db1e0"},{"offset":0.459,"color":"#8db1e0"},{"offset":0.459,"color":"rgba(255,255,255,0.9)"},{"offset":0.4773,"color":"rgba(255,255,255,0.9)"},
{"offset":0.4773,"color":"#8db1e0"},{"offset":0.4818,"color":"#8db1e0"},{"offset":0.4818,"color":"rgba(255,255,255,0.9)"},{"offset":0.5,"color":"rgba(255,255,255,0.9)"},
{"offset":0.5,"color":"#8db1e0"},{"offset":0.5045,"color":"#8db1e0"},{"offset":0.5045,"color":"rgba(255,255,255,0.9)"},{"offset":0.5227,"color":"rgba(255,255,255,0.9)"},
{"offset":0.5227,"color":"#8db1e0"},{"offset":0.5272,"color":"#8db1e0"},{"offset":0.5272,"color":"rgba(255,255,255,0.9)"},{"offset":0.5455,"color":"rgba(255,255,255,0.9)"},
{"offset":0.5455,"color":"#8db1e0"},{"offset":0.55,"color":"#8db1e0"},{"offset":0.55,"color":"rgba(255,255,255,0.9)"},{"offset":0.5682,"color":"rgba(255,255,255,0.9)"},
{"offset":0.5682,"color":"#8db1e0"},{"offset":0.5727,"color":"#8db1e0"},{"offset":0.5727,"color":"rgba(255,255,255,0.9)"},{"offset":0.5909,"color":"rgba(255,255,255,0.9)"},
{"offset":0.5909,"color":"#8db1e0"},{"offset":0.5954,"color":"#8db1e0"},{"offset":0.5954,"color":"rgba(255,255,255,0.9)"},{"offset":0.6136,"color":"rgba(255,255,255,0.9)"},
{"offset":0.6136,"color":"#8db1e0"},{"offset":0.6181,"color":"#8db1e0"},{"offset":0.6181,"color":"rgba(255,255,255,0.9)"},{"offset":0.6364,"color":"rgba(255,255,255,0.9)"},
{"offset":0.6364,"color":"#8db1e0"},{"offset":0.6409,"color":"#8db1e0"},{"offset":0.6409,"color":"rgba(255,255,255,0.9)"},{"offset":0.6591,"color":"rgba(255,255,255,0.9)"},
{"offset":0.6591,"color":"#8db1e0"},{"offset":0.6636,"color":"#8db1e0"},{"offset":0.6636,"color":"rgba(255,255,255,0.9)"},{"offset":0.6818,"color":"rgba(255,255,255,0.9)"},
{"offset":0.6818,"color":"#8db1e0"},{"offset":0.6863,"color":"#8db1e0"},{"offset":0.6863,"color":"rgba(255,255,255,0.9)"},{"offset":0.7045,"color":"rgba(255,255,255,0.9)"},
{"offset":0.7045,"color":"#8db1e0"},{"offset":0.709,"color":"#8db1e0"},{"offset":0.709,"color":"rgba(255,255,255,0.9)"},{"offset":0.7273,"color":"rgba(255,255,255,0.9)"},
{"offset":0.7273,"color":"#8db1e0"},{"offset":0.7318,"color":"#8db1e0"},{"offset":0.7318,"color":"rgba(255,255,255,0.9)"},{"offset":0.75,"color":"rgba(255,255,255,0.9)"},
{"offset":0.75,"color":"#8db1e0"},{"offset":0.7545,"color":"#8db1e0"},{"offset":0.7545,"color":"rgba(255,255,255,0.9)"},{"offset":0.7727,"color":"rgba(255,255,255,0.9)"},
{"offset":0.7727,"color":"#8db1e0"},{"offset":0.7772,"color":"#8db1e0"},{"offset":0.7772,"color":"rgba(255,255,255,0.9)"},{"offset":0.7955,"color":"rgba(255,255,255,0.9)"},
{"offset":0.7955,"color":"#8db1e0"},{"offset":0.8,"color":"#8db1e0"},{"offset":0.8,"color":"rgba(255,255,255,0.9)"},{"offset":0.8182,"color":"rgba(255,255,255,0.9)"},
{"offset":0.8182,"color":"#8db1e0"},{"offset":0.8227,"color":"#8db1e0"},{"offset":0.8227,"color":"rgba(255,255,255,0.9)"},{"offset":0.8409,"color":"rgba(255,255,255,0.9)"},
{"offset":0.8409,"color":"#8db1e0"},{"offset":0.8454,"color":"#8db1e0"},{"offset":0.8454,"color":"rgba(255,255,255,0.9)"},{"offset":0.8636,"color":"rgba(255,255,255,0.9)"},
{"offset":0.8636,"color":"#8db1e0"},{"offset":0.8681,"color":"#8db1e0"},{"offset":0.8681,"color":"rgba(255,255,255,0.9)"},{"offset":0.8864,"color":"rgba(255,255,255,0.9)"},
{"offset":0.8864,"color":"#8db1e0"},{"offset":0.8909,"color":"#8db1e0"},{"offset":0.8909,"color":"rgba(255,255,255,0.9)"},{"offset":0.9091,"color":"rgba(255,255,255,0.9)"},
{"offset":0.9091,"color":"#8db1e0"},{"offset":0.9136,"color":"#8db1e0"},{"offset":0.9136,"color":"rgba(255,255,255,0.9)"},{"offset":0.9318,"color":"rgba(255,255,255,0.9)"},
{"offset":0.9318,"color":"#8db1e0"},{"offset":0.9363,"color":"#8db1e0"},{"offset":0.9363,"color":"rgba(255,255,255,0.9)"},{"offset":0.9545,"color":"rgba(255,255,255,0.9)"},
{"offset":0.9545,"color":"#8db1e0"},{"offset":0.959,"color":"#8db1e0"},{"offset":0.959,"color":"rgba(255,255,255,0.9)"},{"offset":0.9773,"color":"rgba(255,255,255,0.9)"},
{"offset":0.9773,"color":"#8db1e0"},{"offset":0.9818,"color":"#8db1e0"},{"offset":0.9818,"color":"rgba(255,255,255,0.9)"},{"offset":1,"color":"rgba(255,255,255,0.9)"}
]}},
  "encoding":{"x":{"field":"t","type":"quantitative"},"y":{"field":"v","type":"quantitative"},"y2":{"field":"v2"}}},
 {"data":{"name":"top"},"transform":[{"filter":"datum.s != 'UC(kW)'"}],
  "mark":{"type":"line","interpolate":"linear"},
  "encoding":{
   "x":{"field":"t","type":"quantitative"},
   "y":{"field":"v","type":"quantitative"},
   "color":{"field":"s","type":"nominal","sort":null,
     "scale":{"domain":["UC(kW)","PVC(kW)","ESC(kW)","EV_cut(kW)","P_EV(kW)","SOC(%)"],"range":["#3f7fc5","#ec6e6a","#93c26a","#37b8d6","#9576bf","#f7ad75"]},
     "legend":{"orient":"none","legendX":562,"legendY":125,"title":null,"symbolType":"stroke","symbolSize":144,"symbolStrokeWidth":2,"labelFontSize":15,"labelColor":"#595959","labelOffset":2,"padding":5,"rowPadding":10.2,"strokeColor":"#b5b5b5","fillColor":"#ffffff"}},
   "strokeWidth":{"value":1.3},
   "opacity":{"condition":{"test":"datum.s == 'P_EV(kW)'","value":0.8},"value":1}
  }},
 {"data":{"name":"dash"},"mark":{"type":"line","stroke":"#000000","strokeWidth":2,"strokeDash":[2,2]},
  "encoding":{"x":{"field":"t","type":"quantitative"},"y":{"field":"v","type":"quantitative"},"detail":{"field":"g"}}},
 {"data":{"name":"arrows"},"mark":{"type":"line","stroke":"#000000","strokeWidth":1.8,"strokeDash":[3,2]},
  "encoding":{"x":{"field":"t","type":"quantitative"},"y":{"field":"v","type":"quantitative"},"detail":{"field":"g"}}},
 {"data":{"name":"heads"},"mark":{"type":"point","shape":"M0,0L0.65,1.7L-0.65,1.7Z","filled":true,"fill":"#000000","stroke":null,"opacity":1,"size":400},
  "encoding":{"x":{"field":"t","type":"quantitative"},"y":{"field":"v","type":"quantitative"},"angle":{"field":"a","type":"quantitative","scale":null}}},
 {"data":{"name":"ell"},"mark":{"type":"point","shape":"M0,-1A0.072,1,0,1,0,0,1A0.072,1,0,1,0,0,-1Z","filled":false,"stroke":"#ff00ff","strokeWidth":2.5,"opacity":1,"size":69696},
  "encoding":{"x":{"field":"t","type":"quantitative"},"y":{"field":"v","type":"quantitative"}}},
 {"data":{"name":"sep"},"mark":{"type":"line","stroke":"#d9d9d9","strokeWidth":1},
  "encoding":{"x":{"field":"t","type":"quantitative"},"y":{"field":"v","type":"quantitative"}}},
 {"data":{"name":"ttl"},"mark":{"type":"text","font":"Lato","fontSize":16,"color":"#595959","align":"center","baseline":"middle"},
  "encoding":{"x":{"field":"t","type":"quantitative"},"y":{"field":"v","type":"quantitative"},"text":{"field":"txt"}}},
 {"data":{"name":"hbox"},"mark":{"type":"rect","fill":{"gradient":"linear","x1":0,"y1":0,"x2":1,"y2":1,"stops":[
{"offset":0,"color":"#9dbde6"},{"offset":0.05,"color":"#9dbde6"},{"offset":0.05,"color":"#f3f7fc"},{"offset":0.1667,"color":"#f3f7fc"},
{"offset":0.1667,"color":"#9dbde6"},{"offset":0.2167,"color":"#9dbde6"},{"offset":0.2167,"color":"#f3f7fc"},{"offset":0.3333,"color":"#f3f7fc"},
{"offset":0.3333,"color":"#9dbde6"},{"offset":0.3833,"color":"#9dbde6"},{"offset":0.3833,"color":"#f3f7fc"},{"offset":0.5,"color":"#f3f7fc"},
{"offset":0.5,"color":"#9dbde6"},{"offset":0.55,"color":"#9dbde6"},{"offset":0.55,"color":"#f3f7fc"},{"offset":0.6667,"color":"#f3f7fc"},
{"offset":0.6667,"color":"#9dbde6"},{"offset":0.7167,"color":"#9dbde6"},{"offset":0.7167,"color":"#f3f7fc"},{"offset":0.8333,"color":"#f3f7fc"},
{"offset":0.8333,"color":"#9dbde6"},{"offset":0.8833,"color":"#9dbde6"},{"offset":0.8833,"color":"#f3f7fc"},{"offset":1,"color":"#f3f7fc"}
]}},
  "encoding":{"x":{"field":"t","type":"quantitative"},"x2":{"field":"t2"},"y":{"field":"v","type":"quantitative"},"y2":{"field":"v2"}}},
 {"data":{"name":"htxt"},"mark":{"type":"text","font":"Liberation Sans","fontSize":12.5,"color":"#222222","align":"left","baseline":"middle"},
  "encoding":{"x":{"field":"t","type":"quantitative"},"y":{"field":"v","type":"quantitative"},"text":{"field":"txt"}}}
]},
{"layer":[
 {"data":{"name":"bbox"},"mark":{"type":"rect","fill":null,"stroke":"#d9d9d9","strokeWidth":1},
  "encoding":{
   "x":{"field":"t","type":"quantitative","scale":{"domain":[0,30],"range":[90,482],"nice":false,"zero":false},
        "axis":{"orient":"bottom","offset":-44,"values":[0,15,30],"labelExpr":"datum.value == 0 ? '6:00' : datum.value == 15 ? '6:15' : '6:30'","title":"Time of a Day","grid":false,"ticks":false,"domainColor":"#d9d9d9","domainWidth":2,"labelPadding":5,"labelFont":"Liberation Serif","labelFontSize":16,"labelColor":"#8c8c8c","labelFlush":false,"labelOverlap":false,"labelAlign":{"condition":{"test":"datum.value == 0","value":"left"},"value":"center"},"titleFontSize":11,"titleFontWeight":"normal","titleColor":"#595959","titlePadding":4}},
   "x2":{"field":"t2"},
   "y":{"field":"v","type":"quantitative","scale":{"domain":[-150,150],"range":[660,441],"nice":false,"zero":false},
        "axis":{"orient":"left","offset":-90,"values":[-150,-100,-50,0,50,100,150],"title":null,"grid":true,"gridColor":"#e3e3e3","ticks":false,"domainColor":"#d9d9d9","labelPadding":10,"labelFontSize":10.5,"labelColor":"#595959"}},
   "y2":{"field":"v2"}
  }},
 {"data":{"name":"bot"},
  "mark":{"type":"line","interpolate":"linear"},
  "encoding":{
   "x":{"field":"t","type":"quantitative"},
   "y":{"field":"v","type":"quantitative"},
   "color":{"field":"s","type":"nominal","sort":null,
     "scale":{"domain":["UC(kW)","PVC(kW)","ESC(kW)","EV_cut(kW)","P_EV(kW)","SOC(%)"],"range":["#4a86c8","#f26d6d","#9dc86e","#3ebcd9","#9a7cc4","#f8b07c"]},
     "legend":{"orient":"none","legendX":497,"legendY":509,"title":null,"symbolType":"stroke","symbolSize":225,"symbolStrokeWidth":2,"labelFontSize":11,"labelColor":"#595959","labelOffset":4,"padding":3,"rowPadding":4.6,"strokeColor":"#c8c8c8","fillColor":"#ffffff"}},
   "strokeWidth":{"condition":{"test":"datum.s == 'UC(kW)'","value":1.8},"value":1.3}
  }},
 {"data":{"name":"bttl"},"mark":{"type":"text","font":"Lato","fontSize":12.5,"color":"#595959","align":"center","baseline":"middle"},
  "encoding":{"x":{"field":"t","type":"quantitative"},"y":{"field":"v","type":"quantitative"},"text":{"field":"txt"}}}
]}
],
"resolve":{"scale":{"x":"independent","y":"independent","color":"independent"},"axis":{"x":"independent","y":"independent"},"legend":{"color":"independent"}}
}
